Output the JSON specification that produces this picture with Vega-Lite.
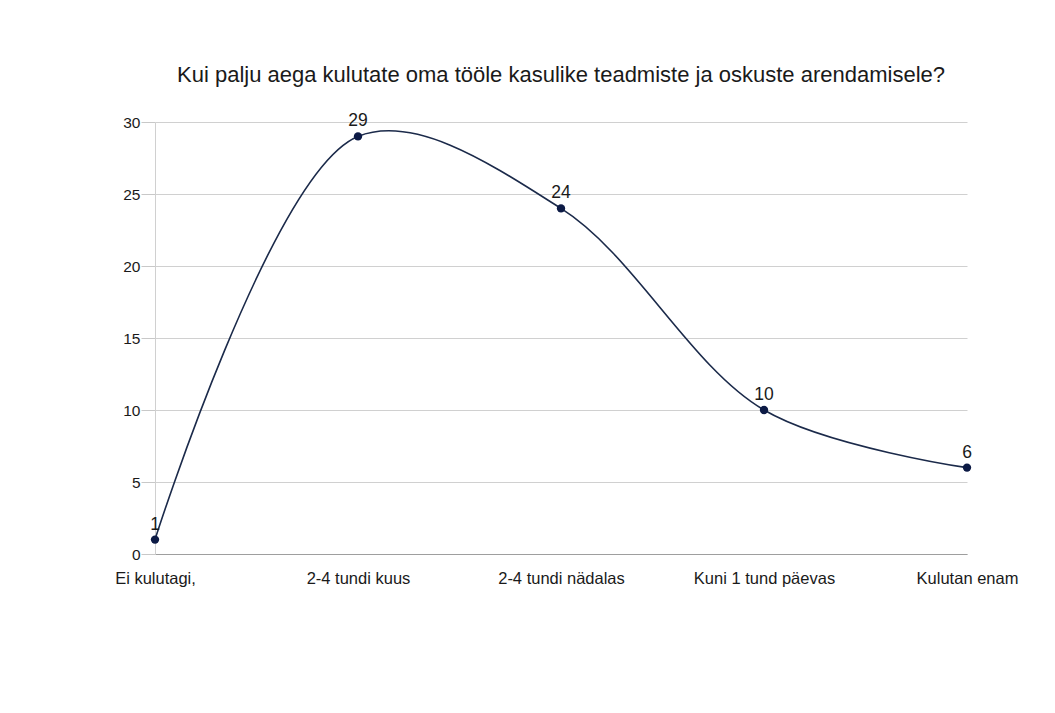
{
  "$schema": "https://vega.github.io/schema/vega-lite/v6.json",
  "autosize": {"type": "none"},
  "padding": {"left": 155, "top": 122, "right": 88, "bottom": 159},
  "width": 812,
  "height": 432,
  "background": "white",
  "title": {
    "text": "Kui palju aega kulutate oma tööle kasulike teadmiste ja oskuste arendamisele?",
    "font": "Liberation Sans",
    "fontSize": 22,
    "fontWeight": "normal",
    "color": "#1a1a1a",
    "anchor": "middle",
    "offset": 25
  },
  "data": {
    "values": [
      {"vastus": "Ei kulutagi,", "arv": 1},
      {"vastus": "2-4 tundi kuus", "arv": 29},
      {"vastus": "2-4 tundi nädalas", "arv": 24},
      {"vastus": "Kuni 1 tund päevas", "arv": 10},
      {"vastus": "Kulutan enam", "arv": 6}
    ]
  },
  "encoding": {
    "x": {
      "field": "vastus",
      "type": "ordinal",
      "sort": null,
      "scale": {"type": "point", "padding": 0},
      "axis": {
        "title": null,
        "labelAngle": 0,
        "ticks": false,
        "grid": false,
        "domainColor": "#9e9e9e",
        "labelFont": "Liberation Sans",
        "labelFontSize": 16.5,
        "labelColor": "#1a1a1a",
        "labelPadding": 16
      }
    },
    "y": {
      "field": "arv",
      "type": "quantitative",
      "scale": {"domain": [0, 30], "nice": false},
      "axis": {
        "title": null,
        "values": [0, 5, 10, 15, 20, 25, 30],
        "grid": true,
        "gridColor": "#d0d0d0",
        "domainColor": "#d0d0d0",
        "tickColor": "#c8c8c8",
        "tickSize": 14,
        "labelFont": "Liberation Sans",
        "labelFontSize": 15.5,
        "labelColor": "#1a1a1a",
        "labelPadding": 1
      }
    }
  },
  "layer": [
    {
      "mark": {"type": "line", "interpolate": "catmull-rom", "color": "#1b2a4a", "strokeWidth": 1.6}
    },
    {
      "mark": {"type": "point", "filled": true, "color": "#0c1a45", "size": 70, "opacity": 1}
    },
    {
      "mark": {"type": "text", "font": "Liberation Sans", "fontSize": 17.5, "color": "#1a1a1a", "baseline": "alphabetic", "dy": -10},
      "encoding": {"text": {"field": "arv", "type": "quantitative"}}
    }
  ],
  "config": {"view": {"stroke": null}}
}
